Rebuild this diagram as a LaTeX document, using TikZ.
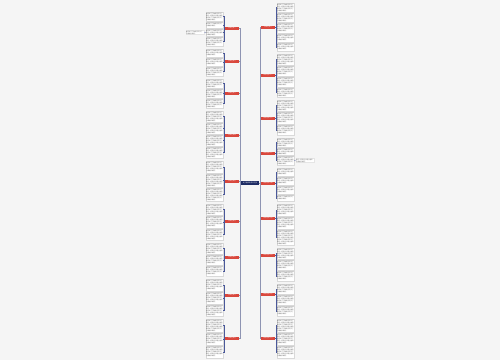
\documentclass[tikz,border=0pt]{standalone}
\usepackage{fontspec}
\newfontfamily\cjk{Noto Sans CJK SC}
\definecolor{myNavy}{HTML}{1D2B63}
\definecolor{myRed}{HTML}{D9473C}
\definecolor{mainLn}{HTML}{8E94B2}
\definecolor{brLn}{HTML}{4A589A}
\definecolor{bgGray}{HTML}{F5F5F5}
\newcount\fillc
\newcommand\linetext[1]{\ifodd#1 春天来了万物复苏花开了\else 我们一起走在小路上看风\fi}
\newcommand\mkfill[1]{\gdef\filltxt{}\fillc=1
  \loop\ifnum\fillc<#1 \xdef\filltxt{\filltxt\linetext{\the\fillc}\noexpand\\}\advance\fillc by 1 \repeat
  \xdef\filltxt{\filltxt 心情格外美好。}}
\tikzset{
  leaf/.style={draw=black!15, line width=0.2pt, fill=white, inner sep=0.3pt, text width=17pt, align=left,
    font=\cjk\fontsize{1.5}{2}\selectfont, text=black!65, anchor=north},
  subleaf/.style={draw=black!10, line width=0.2pt, fill=white, inner sep=0.3pt, text width=18pt, align=left,
    font=\cjk\fontsize{1.5}{2}\selectfont, text=black!60},
  kid/.style={fill=myRed, minimum width=14pt, minimum height=3pt, inner sep=0pt,
    font=\cjk\fontsize{1.5}{2}\selectfont, text=white},
  hub/.style={fill=myNavy, minimum width=18.5pt, minimum height=4.5pt, inner sep=0pt,
    font=\cjk\fontsize{1.6}{2}\selectfont, text=white},
  mainline/.style={draw=mainLn, line width=0.4pt},
  br/.style={draw=brLn, line width=0.4pt}
}
\newcommand\leafL[4]{%
  \pgfmathtruncatemacro\nl{max(1,(#3-#2-1)/2)}\mkfill{\nl}%
  \node[leaf, minimum height={(#3-#2)*1pt}] (#1) at (214.5,#2) {\filltxt};
  \draw[br] (#4.west) -- ++(-0.6,0) |- (#1.east);}
\newcommand\leafR[4]{%
  \pgfmathtruncatemacro\nl{max(1,(#3-#2-1)/2)}\mkfill{\nl}%
  \node[leaf, minimum height={(#3-#2)*1pt}] (#1) at (285.5,#2) {\filltxt};
  \draw[br] (#4.east) -- ++(0.6,0) |- (#1.west);}
\begin{document}
\begin{tikzpicture}[x=1pt,y=-1pt]
\fill[bgGray] (0,0) rectangle (500,360);
\useasboundingbox (0,0) rectangle (500,360);
% hub
\node[hub] (c) at (250,183) {关于春天的作文范文};
% left children
\node[kid] (l1) at (232,28) {作文范文一};
\node[kid] (l2) at (232,61) {作文范文二};
\node[kid] (l3) at (232,93) {作文范文三};
\node[kid] (l4) at (232,135) {作文范文四};
\node[kid] (l5) at (232,181) {作文范文五};
\node[kid] (l6) at (232,221) {作文范文六};
\node[kid] (l7) at (232,257) {作文范文七};
\node[kid] (l8) at (232,295) {作文范文八};
\node[kid] (l9) at (232,338) {作文范文九};
% right children
\node[kid] (r1) at (268,27) {作文范文十};
\node[kid] (r2) at (268,75) {作文范文十一};
\node[kid] (r3) at (268,118) {作文范文十二};
\node[kid] (r4) at (268,153) {作文范文十三};
\node[kid] (r5) at (268,183) {作文范文十四};
\node[kid] (r6) at (268,218) {作文范文十五};
\node[kid] (r7) at (268,255) {作文范文十六};
\node[kid] (r8) at (268,294) {作文范文十七};
\node[kid] (r9) at (268,338) {作文范文十八};
% main connectors
\foreach \k in {l1,l2,l3,l4,l5,l6,l7,l8,l9}{\draw[mainline] (c.west) -- ++(-0.6,0) |- (\k.east);}
\foreach \k in {r1,r2,r3,r4,r5,r6,r7,r8,r9}{\draw[mainline] (c.east) -- ++(0.6,0) |- (\k.west);}
% left leaves
\leafL{la1}{12}{21}{l1}\leafL{la2}{22}{28}{l1}\leafL{la3}{29}{36}{l1}\leafL{la4}{37}{46}{l1}
\leafL{lb1}{49}{57}{l2}\leafL{lb2}{58}{66}{l2}\leafL{lb3}{67}{76}{l2}
\leafL{lc1}{79}{88}{l3}\leafL{lc2}{89}{98}{l3}\leafL{lc3}{99}{108}{l3}
\leafL{ld1}{111}{122}{l4}\leafL{ld2}{123}{134}{l4}\leafL{ld3}{135}{146}{l4}\leafL{ld4}{147}{158}{l4}
\leafL{le1}{161}{173}{l5}\leafL{le2}{174}{187}{l5}\leafL{le3}{188}{201}{l5}
\leafL{lf1}{204}{215}{l6}\leafL{lf2}{216}{228}{l6}\leafL{lf3}{229}{240}{l6}
\leafL{lg1}{243}{254}{l7}\leafL{lg2}{255}{265}{l7}\leafL{lg3}{266}{276}{l7}
\leafL{lh1}{279}{291}{l8}\leafL{lh2}{292}{304}{l8}\leafL{lh3}{305}{316}{l8}
\leafL{li1}{319}{332}{l9}\leafL{li2}{333}{345}{l9}\leafL{li3}{346}{358}{l9}
% right leaves
\leafR{ra1}{3}{12}{r1}\leafR{ra2}{13}{22}{r1}\leafR{ra3}{23}{33}{r1}\leafR{ra4}{34}{42}{r1}\leafR{ra5}{43}{51}{r1}
\leafR{rb1}{54}{65}{r2}\leafR{rb2}{66}{76}{r2}\leafR{rb3}{77}{87}{r2}\leafR{rb4}{88}{97}{r2}
\leafR{rc1}{100}{111}{r3}\leafR{rc2}{112}{124}{r3}\leafR{rc3}{125}{135}{r3}
\leafR{rd1}{138}{147}{r4}\leafR{rd2}{148}{155}{r4}\leafR{rd3}{156}{165}{r4}
\leafR{re1}{168}{176}{r5}\leafR{re2}{177}{185}{r5}\leafR{re3}{186}{194}{r5}\leafR{re4}{195}{201}{r5}
\leafR{rf1}{204}{216}{r6}\leafR{rf2}{217}{229}{r6}\leafR{rf3}{230}{245}{r6}
\leafR{rg1}{248}{259}{r7}\leafR{rg2}{260}{270}{r7}\leafR{rg3}{271}{281}{r7}
\leafR{rh1}{284}{294}{r8}\leafR{rh2}{295}{305}{r8}\leafR{rh3}{306}{316}{r8}
\leafR{ri1}{319}{332}{r9}\leafR{ri2}{333}{345}{r9}\leafR{ri3}{346}{358}{r9}
% second-level leaves
\node[subleaf] (ls) at (195,32.5) {春天来了万物复苏花开了\\心情格外美好。};
\draw[br] (la3.west) -- (ls.east);
\node[subleaf] (rs) at (305,160.5) {我们一起走在小路上看风\\心情格外美好。};
\draw[br] (rd3.east) -- (rs.west);
\end{tikzpicture}
\end{document}
